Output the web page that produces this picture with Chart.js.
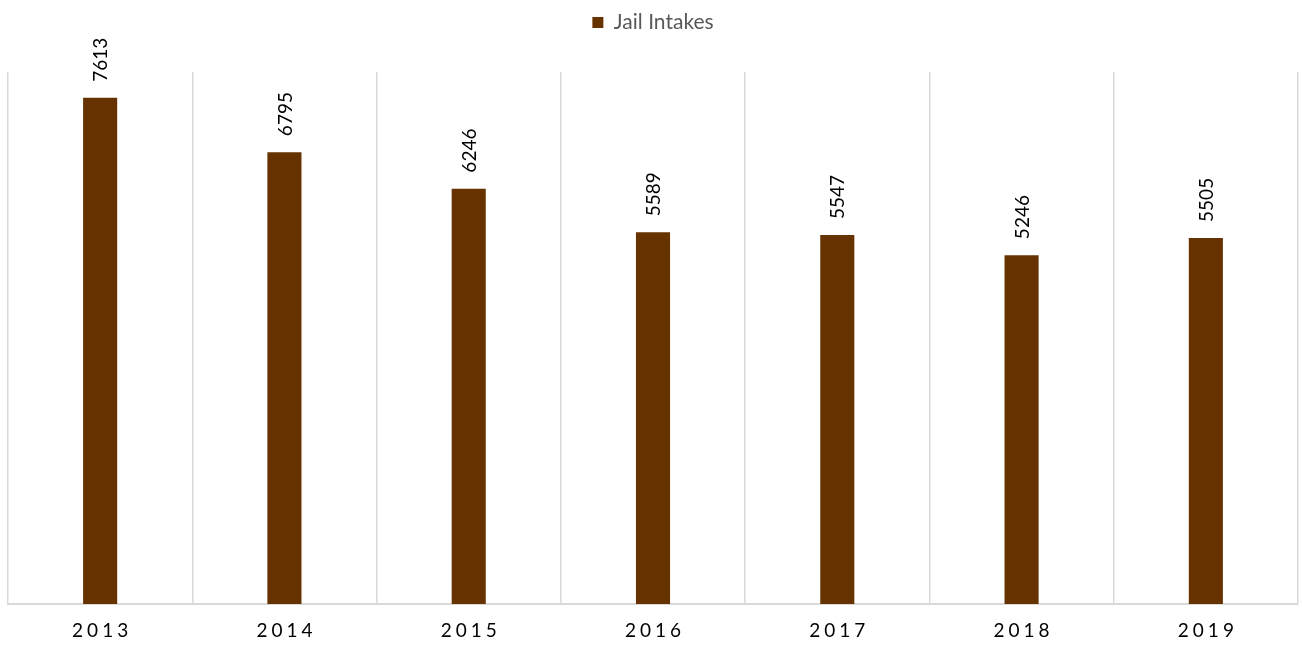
<!DOCTYPE html>
<html>
<head>
<meta charset="utf-8">
<script src="https://cdn.jsdelivr.net/npm/chart.js@4.4.1/dist/chart.umd.min.js"></script>
<style>
    html, body { margin: 0; padding: 0; background: #fff; }
    #wrap { width: 1302px; height: 646px; }
</style>
</head>
<body>
<div id="wrap"><canvas id="chart"></canvas></div>
<script>
const years = ['2013', '2014', '2015', '2016', '2017', '2018', '2019'];
const jailIntakes = [7613, 6795, 6246, 5589, 5547, 5246, 5505];
const seriesName = 'Jail Intakes';

const COLORS = {
    bar: '#663300',
    grid: '#d9d9d9',
    legendText: '#595959',
    label: '#000000'
};

const FONT = 'Lato, "Open Sans", sans-serif';

// pushes the plot area down under the legend
const legendGapPlugin = {
    id: 'legendGap',
    beforeInit(chart) {
        const fit = chart.legend.fit;
        chart.legend.fit = function () {
            fit.bind(chart.legend)();
            this.height = 72;
        };
    }
};

// rotated value labels above each bar
const barLabelsPlugin = {
    id: 'barLabels',
    afterDatasetsDraw(chart) {
        const { ctx } = chart;
        const meta = chart.getDatasetMeta(0);
        ctx.save();
        ctx.fillStyle = COLORS.label;
        ctx.font = '19px ' + FONT;
        ctx.textAlign = 'left';
        ctx.textBaseline = 'middle';
        meta.data.forEach((bar, i) => {
            ctx.save();
            ctx.translate(bar.x + 1, bar.y - 16);
            ctx.rotate(-Math.PI / 2);
            ctx.fillText(String(jailIntakes[i]), 0, 0);
            ctx.restore();
        });
        ctx.restore();
    }
};

// x labels drawn by hand for the letter spacing
const xLabelsPlugin = {
    id: 'xLabels',
    afterDraw(chart) {
        const { ctx } = chart;
        const xScale = chart.scales.x;
        ctx.save();
        ctx.fillStyle = '#000000';
        ctx.font = '19px ' + FONT;
        ctx.letterSpacing = '4px';
        ctx.textAlign = 'center';
        ctx.textBaseline = 'middle';
        years.forEach((y, i) => {
            ctx.fillText(y, xScale.getPixelForValue(i) + 2, 631);
        });
        ctx.restore();
    }
};

new Chart(document.getElementById('chart').getContext('2d'), {
    type: 'bar',
    data: {
        labels: years,
        datasets: [{
            label: seriesName,
            data: jailIntakes,
            backgroundColor: COLORS.bar,
            borderWidth: 0,
            barPercentage: 0.185,
            categoryPercentage: 1
        }]
    },
    plugins: [legendGapPlugin, barLabelsPlugin, xLabelsPlugin],
    options: {
        responsive: true,
        maintainAspectRatio: false,
        animation: false,
        devicePixelRatio: 1,
        layout: {
            padding: { left: 8, right: 4, top: 0, bottom: 42 }
        },
        plugins: {
            legend: {
                display: true,
                position: 'top',
                labels: {
                    boxWidth: 11,
                    boxHeight: 11,
                    padding: 12,
                    color: COLORS.legendText,
                    font: { family: FONT, size: 21 }
                }
            },
            tooltip: { enabled: false }
        },
        scales: {
            x: {
                offset: true,
                grid: {
                    display: true,
                    offset: true,
                    color: COLORS.grid,
                    lineWidth: 1.5,
                    drawTicks: false
                },
                border: { display: true, color: COLORS.grid, width: 2 },
                ticks: { display: false }
            },
            y: {
                display: false,
                min: 0,
                max: 8000
            }
        }
    }
});
</script>
</body>
</html>
